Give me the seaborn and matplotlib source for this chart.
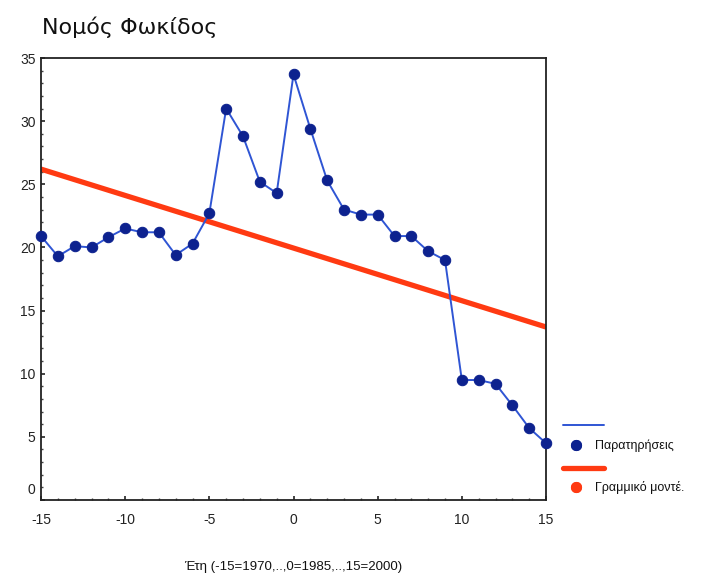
import numpy as np
import pandas as pd
import matplotlib
matplotlib.use("Agg")
import matplotlib.pyplot as plt
import matplotlib.transforms as mtransforms
from matplotlib.lines import Line2D
from matplotlib.ticker import MultipleLocator
import seaborn as sns

# Data
years = list(range(-15, 16))
observed = [20.9, 19.3, 20.1, 20.0, 20.8, 21.5, 21.2, 21.2, 19.4, 20.3,
            22.7, 31.0, 28.8, 25.2, 24.3, 33.7, 29.4, 25.3, 23.0, 22.6,
            22.6, 20.9, 20.9, 19.7, 19.0, 9.5, 9.5, 9.2, 7.5, 5.7, 4.5]
model_x = [-15, 15]
model_y = [26.2, 13.7]

title = "Νομός Φωκίδος"
xlabel = "Έτη (-15=1970,..,0=1985,..,15=2000)"
legend_labels = ["Παρατηρήσεις", "Γραμμικό μοντέ."]

obs_df = pd.DataFrame({"year": years, "value": observed})
model_df = pd.DataFrame({"year": model_x, "value": model_y})

sns.set_theme(style="white")
plt.rcParams['font.family'] = ['Liberation Sans', 'DejaVu Sans']
plt.rcParams['axes.unicode_minus'] = False

BLUE = "#2f55d4"
NAVY = "#0d228f"
RED = "#ff3a12"

fig = plt.figure(figsize=(7.27, 5.76), dpi=100)
ax = fig.add_axes([41 / 727, 1 - 500 / 576, 505 / 727, 442 / 576])

sns.lineplot(data=model_df, x="year", y="value", ax=ax, color=RED,
             linewidth=3.8, zorder=2)
sns.lineplot(data=obs_df, x="year", y="value", ax=ax, color=BLUE,
             linewidth=1.4, marker="o", markersize=7.5,
             markerfacecolor=NAVY, markeredgecolor=NAVY, zorder=3,
             clip_on=False)

ax.set_xlim(-15, 15)
ax.set_ylim(0, 35)
ax.xaxis.set_major_locator(MultipleLocator(5))
ax.xaxis.set_minor_locator(MultipleLocator(1))
ax.yaxis.set_major_locator(MultipleLocator(5))
ax.yaxis.set_minor_locator(MultipleLocator(1))
ax.tick_params(which="major", direction="in", length=3, width=1.2,
               labelsize=10, color="#222222", labelcolor="#222222")
ax.tick_params(axis="x", which="major", pad=9)
ax.tick_params(axis="y", which="major", pad=4)
ax.tick_params(which="minor", direction="in", length=1.5, width=1,
               color="#444444")
ax.tick_params(axis="both", which="both", bottom=True, left=True)
for s in ax.spines.values():
    s.set_color("#222222")
    s.set_linewidth(1.3)
ax.set_xlabel("")
ax.set_ylabel("")
ax.grid(False)

# the "0" label on the y axis sits a little higher in the original
fig.canvas.draw()
for lbl in ax.get_yticklabels():
    if lbl.get_text() == "0":
        lbl.set_transform(lbl.get_transform() +
                          mtransforms.ScaledTranslation(0, 8 / 72, fig.dpi_scale_trans))

fig.text(42 / 727, 1 - 34 / 576, title, fontsize=16,
         family=['DejaVu Sans'], ha="left", va="baseline", color="#111111")
fig.text(293 / 727, 1 - 567 / 576, xlabel, fontsize=9.5,
         ha="center", va="center", color="#111111")

# Legend drawn by hand to mimic the original layout
px = lambda x, y: (x / 727, 1 - y / 576)
fig.add_artist(Line2D(*zip(px(563, 425), px(604, 425)), color=BLUE,
                      linewidth=1.4, transform=fig.transFigure))
fig.add_artist(Line2D(*zip(px(576, 445), px(576, 445)), color=NAVY,
                      marker="o", markersize=7, linestyle="none",
                      transform=fig.transFigure))
fig.text(*px(595, 446), legend_labels[0], fontsize=9, va="center",
         ha="left", color="#111111")
fig.add_artist(Line2D(*zip(px(563, 468), px(604, 468)), color=RED,
                      linewidth=3.8, transform=fig.transFigure))
fig.add_artist(Line2D(*zip(px(576, 487), px(576, 487)), color=RED,
                      marker="o", markersize=7, linestyle="none",
                      transform=fig.transFigure))
fig.text(*px(595, 488), legend_labels[1], fontsize=9, va="center",
         ha="left", color="#111111")

fig.savefig("out.png", dpi=100, facecolor="white")
